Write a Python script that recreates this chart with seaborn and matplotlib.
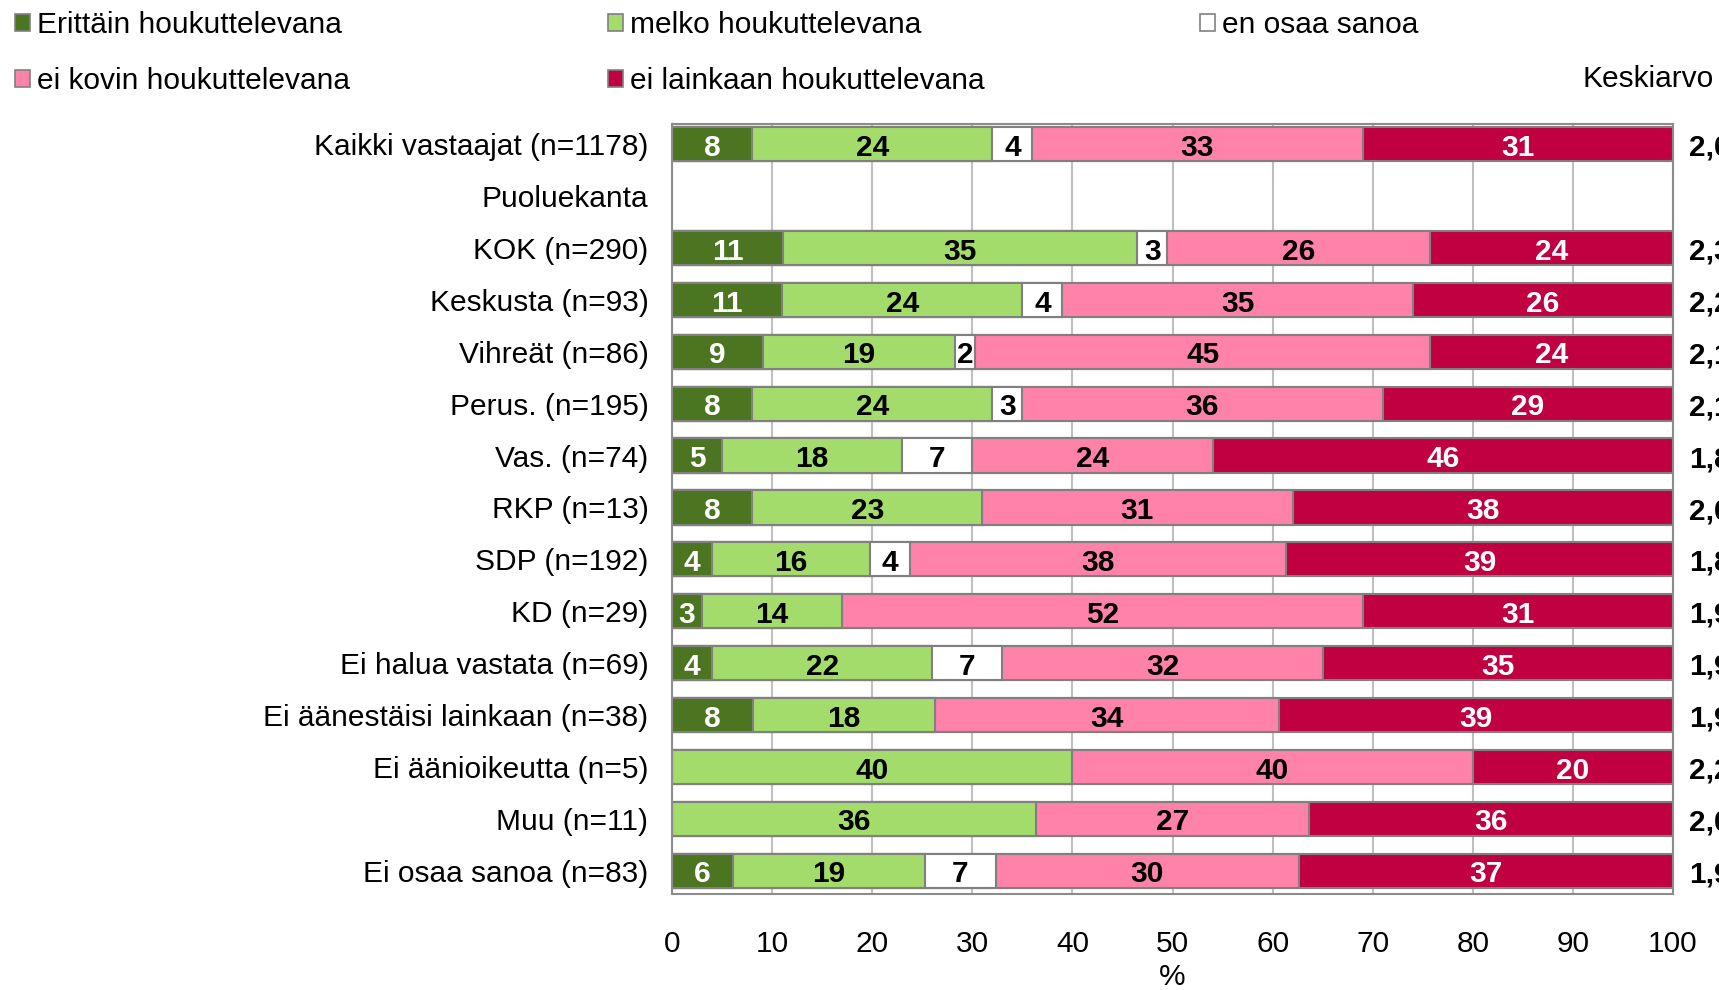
import numpy as np
import pandas as pd
import matplotlib
matplotlib.use("Agg")
import matplotlib.pyplot as plt
import seaborn as sns
from matplotlib.patches import Patch
from matplotlib.transforms import blended_transform_factory

# ---------------- data ----------------
categories = [
    "Kaikki vastaajat (n=1178)", "Puoluekanta", "KOK (n=290)", "Keskusta (n=93)",
    "Vihreät (n=86)", "Perus. (n=195)", "Vas. (n=74)", "RKP (n=13)", "SDP (n=192)",
    "KD (n=29)", "Ei halua vastata (n=69)", "Ei äänestäisi lainkaan (n=38)",
    "Ei äänioikeutta (n=5)", "Muu (n=11)", "Ei osaa sanoa (n=83)",
]
series_names = ["Erittäin houkuttelevana", "melko houkuttelevana", "en osaa sanoa",
                "ei kovin houkuttelevana", "ei lainkaan houkuttelevana"]
nan = np.nan
erittain    = [8, nan, 11, 11, 9, 8, 5, 8, 4, 3, 4, 8, 0, 0, 6]
melko       = [24, nan, 35, 24, 19, 24, 18, 23, 16, 14, 22, 18, 40, 36, 19]
en_osaa     = [4, nan, 3, 4, 2, 3, 7, 0, 4, 0, 7, 0, 0, 0, 7]
ei_kovin    = [33, nan, 26, 35, 45, 36, 24, 31, 38, 52, 32, 34, 40, 27, 30]
ei_lainkaan = [31, nan, 24, 26, 24, 29, 46, 38, 39, 31, 35, 39, 20, 36, 37]
keskiarvo   = [2.09, nan, 2.32, 2.21, 2.13, 2.11, 1.81, 2.01, 1.85, 1.91, 1.95, 1.95, 2.20, 2.00, 1.91]
x_ticks = [0, 10, 20, 30, 40, 50, 60, 70, 80, 90, 100]

colors = ["#4b7520", "#a3dc6a", "#ffffff", "#ff82aa", "#c00040"]
label_colors = ["white", "black", "black", "black", "white"]

# ---------------- figure ----------------
plt.rcParams["font.family"] = ["Liberation Sans", "DejaVu Sans"]
FS = 21.5
fig = plt.figure(figsize=(17.19, 9.90), dpi=100)
ax = fig.add_axes([672 / 1719, 96.5 / 990, 1001 / 1719, 769.5 / 990])

df = pd.DataFrame({"Ryhmä": categories, series_names[0]: erittain, series_names[1]: melko,
                   series_names[2]: en_osaa, series_names[3]: ei_kovin,
                   series_names[4]: ei_lainkaan, "Keskiarvo": keskiarvo})
valid = df.dropna(subset=series_names).reset_index(drop=True)
vals = valid[series_names].to_numpy(dtype=float)
share = vals / vals.sum(axis=1, keepdims=True) * 100
cum = np.cumsum(share, axis=1)

for j in reversed(range(5)):
    sns.barplot(x=cum[:, j], y=valid["Ryhmä"], order=categories, orient="h",
                color=colors[j], saturation=1, edgecolor="#808080", linewidth=1.5,
                width=0.66, ax=ax, errorbar=None)

# segment labels
for i, row in valid.iterrows():
    yi = categories.index(row["Ryhmä"])
    for j in range(5):
        v = vals[i, j]
        if v > 0:
            ax.text(cum[i, j] - share[i, j] / 2, yi + 0.07, f"{int(v)}", ha="center",
                    va="center", fontsize=FS, fontweight="bold", color=label_colors[j])

# mean values on the right
trans = blended_transform_factory(ax.transAxes, ax.transData)
for yi, m in enumerate(keskiarvo):
    if not np.isnan(m):
        ax.text(1.016, yi + 0.07, f"{m:.2f}".replace(".", ","), transform=trans, ha="left",
                va="center", fontsize=FS, fontweight="bold", clip_on=False)

ax.set_xlim(0, 100)
ax.set_ylim(14.44, -0.39)
ax.set_xticks(x_ticks)
ax.set_xticklabels([str(t) for t in x_ticks], fontsize=FS)
ax.tick_params(axis="x", length=0, pad=26)
ax.tick_params(axis="y", length=0, pad=17, labelsize=FS)
ax.set_ylabel("")
ax.set_xlabel("%", fontsize=FS, labelpad=4)
ax.grid(axis="x", color="#c0c0c0", linewidth=1.5)
ax.set_axisbelow(True)
for s in ax.spines.values():
    s.set_visible(True)
    s.set_color("#8c8c8c")
    s.set_linewidth(1.5)

# legend in three columns
handles = [Patch(facecolor=c, edgecolor="#808080", linewidth=1.2) for c in colors]
col_groups = [([0, 3], 15), ([1, 4], 608), ([2], 1200)]
for idxs, xpx in col_groups:
    fig.legend([handles[k] for k in idxs], [series_names[k] for k in idxs],
               loc="upper left", bbox_to_anchor=(xpx / 1719, 1 - 11 / 990),
               frameon=False, fontsize=FS, handlelength=0.5, handleheight=0.5,
               handletextpad=0.25, labelspacing=0.95, borderpad=0, borderaxespad=0)

fig.text(1582 / 1719, 1 - 79 / 990, "Keskiarvo", fontsize=FS, ha="left", va="center")

fig.savefig("out.png", dpi=100)
